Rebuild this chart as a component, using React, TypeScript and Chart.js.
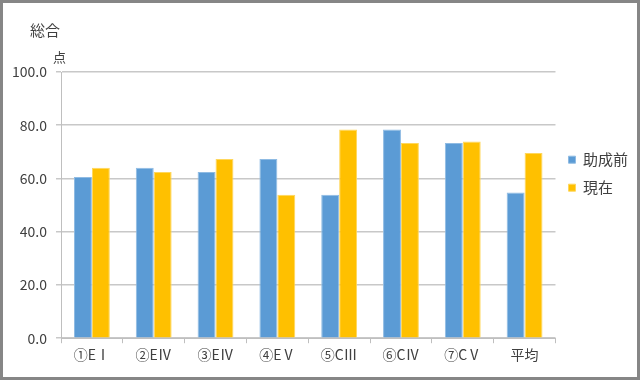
import React, { useEffect, useRef } from "react";
import { Chart, registerables } from "chart.js";

Chart.register(...registerables);

const categories = ["①EⅠ", "②EⅣ", "③EⅣ", "④EⅤ", "⑤CⅢ", "⑥CⅣ", "⑦CⅤ", "平均"];
const beforeValues = [60.6, 64.0, 62.4, 67.3, 53.9, 78.4, 73.3, 54.7];
const currentValues = [64.0, 62.4, 67.3, 53.9, 78.4, 73.3, 73.9, 69.6];
const seriesNames = ["助成前", "現在"];
const chartTitle = "総合";
const unitLabel = "点";
const yTicks = { min: 0, max: 100, step: 20 };

const FONT = '"Noto Sans CJK JP", "Noto Sans", sans-serif';

export default function App() {
  const ref = useRef<HTMLCanvasElement | null>(null);

  useEffect(() => {
    if (!ref.current) return;
    const chart = new Chart(ref.current, {
      type: "bar",
      data: {
        labels: categories,
        datasets: [
          {
            label: seriesNames[0],
            data: beforeValues,
            backgroundColor: "#5B9BD5",
            borderColor: "#8fbbe3",
            borderWidth: 1,
            categoryPercentage: 0.58,
            barPercentage: 1,
          },
          {
            label: seriesNames[1],
            data: currentValues,
            backgroundColor: "#FFC000",
            borderColor: "#ffd75c",
            borderWidth: 1,
            categoryPercentage: 0.58,
            barPercentage: 1,
          },
        ],
      },
      options: {
        animation: false,
        responsive: false,
        layout: { padding: { top: 72, right: 2, bottom: 14, left: 0 } },
        plugins: {
          tooltip: { enabled: false },
          title: { display: false },
          legend: {
            position: "right",
            align: "start",
            fullSize: true,
            title: {
              display: true,
              text: " ",
              font: { size: 1 },
              padding: { top: 66, bottom: 0 },
            },
            labels: {
              boxWidth: 7,
              boxHeight: 7,
              padding: 13,
              color: "#404040",
              font: { family: FONT, size: 15 },
            },
          },
        },
        scales: {
          x: {
            grid: {
              display: true,
              offset: true,
              drawOnChartArea: false,
              tickLength: 5,
              color: "#bfbfbf",
            },
            border: { display: true, color: "#bfbfbf" },
            ticks: {
              color: "#404040",
              padding: 3,
              font: { family: FONT, size: 14 },
            },
          },
          y: {
            min: yTicks.min,
            max: yTicks.max,
            afterFit: (s: any) => {
              s.width = 61;
            },
            grid: { color: "#c8c8c8", tickLength: 5, lineWidth: 1.5 },
            border: { display: true, color: "#bfbfbf" },
            ticks: {
              stepSize: yTicks.step,
              color: "#404040",
              padding: 9,
              font: { family: FONT, size: 14 },
              callback: (v: any) => Number(v).toFixed(1),
            },
          },
        },
      },
    });
    return () => chart.destroy();
  }, []);

  return (
    <div
      style={{
        position: "fixed",
        left: 0,
        top: 0,
        width: 640,
        height: 380,
        background: "#fff",
        fontFamily: FONT,
      }}
    >
      <canvas ref={ref} width={640} height={380} style={{ position: "absolute", left: 0, top: 0 }} />
      <span style={{ position: "absolute", left: 30, top: 20, fontSize: 15, color: "#404040", lineHeight: "20px" }}>
        {chartTitle}
      </span>
      <span style={{ position: "absolute", left: 53, top: 48, fontSize: 13, color: "#404040", lineHeight: "18px" }}>
        {unitLabel}
      </span>
      <div
        style={{
          position: "absolute",
          left: 0,
          top: 0,
          width: 640,
          height: 380,
          boxSizing: "border-box",
          border: "3px solid #868686",
          pointerEvents: "none",
        }}
      />
    </div>
  );
}
